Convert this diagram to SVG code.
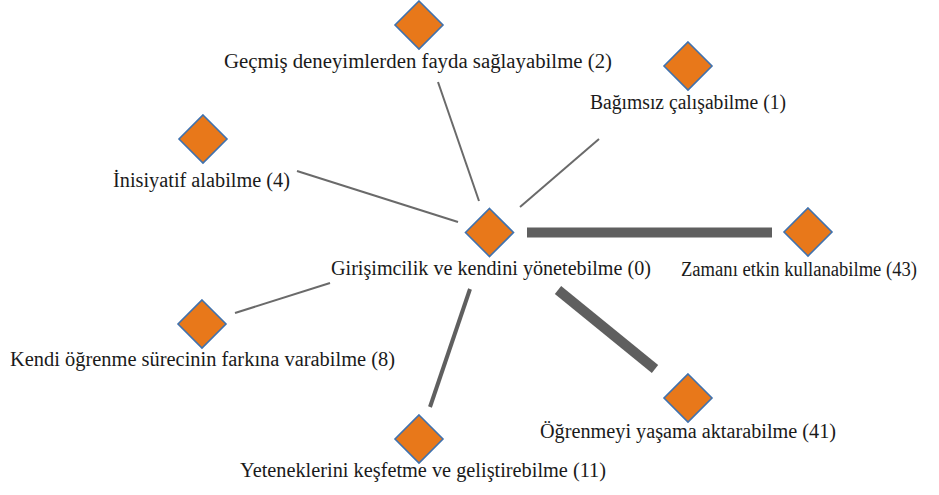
<svg xmlns="http://www.w3.org/2000/svg" width="939" height="495" viewBox="0 0 939 495">
  <defs>
    <style>
      .node { fill: #E8781A; stroke: #3F72AF; stroke-width: 1.6; }
      .lbl { font-family: "Liberation Serif", "Times New Roman", serif; font-size: 20px; fill: #1a1a1a; }
      .edge { stroke: #5f5f5f; stroke-linecap: butt; fill: none; }
      .w1 { stroke-width: 2; stroke: #6a6a6a; }
      .w2 { stroke-width: 4; }
      .w3 { stroke-width: 10; }
    </style>
    <polygon id="dia" points="0,-24 24,0 0,24 -24,0"/>
  </defs>
  <rect width="939" height="495" fill="#ffffff"/>

  <!-- connectors from the central node -->
  <g id="edges">
    <line class="edge w1" x1="438" y1="82" x2="479" y2="201"/>
    <line class="edge w1" x1="599" y1="139" x2="520" y2="207"/>
    <line class="edge w1" x1="297" y1="171" x2="458" y2="222"/>
    <line class="edge w1" x1="235" y1="313" x2="330" y2="283"/>
    <line class="edge w3" x1="527" y1="232.5" x2="772" y2="232.5"/>
    <line class="edge w3" x1="558" y1="290" x2="655" y2="369"/>
    <line class="edge w2" x1="470" y1="289" x2="430" y2="407"/>
  </g>

  <g id="n0">
    <use href="#dia" class="node" x="489.5" y="232.5"/>
    <text class="lbl" x="331" y="275" textLength="320" lengthAdjust="spacingAndGlyphs">Girişimcilik ve kendini yönetebilme (0)</text>
  </g>
  <g id="n1">
    <use href="#dia" class="node" x="688" y="66"/>
    <text class="lbl" x="590" y="109" textLength="196" lengthAdjust="spacingAndGlyphs">Bağımsız çalışabilme (1)</text>
  </g>
  <g id="n2">
    <use href="#dia" class="node" x="419" y="25"/>
    <text class="lbl" x="224" y="68" textLength="388" lengthAdjust="spacingAndGlyphs">Geçmiş deneyimlerden fayda sağlayabilme (2)</text>
  </g>
  <g id="n4">
    <use href="#dia" class="node" x="203" y="139"/>
    <text class="lbl" x="113" y="187" textLength="177" lengthAdjust="spacingAndGlyphs">İnisiyatif alabilme (4)</text>
  </g>
  <g id="n8">
    <use href="#dia" class="node" x="202" y="324"/>
    <text class="lbl" x="10" y="366" textLength="385" lengthAdjust="spacingAndGlyphs">Kendi öğrenme sürecinin farkına varabilme (8)</text>
  </g>
  <g id="n11">
    <use href="#dia" class="node" x="419" y="439"/>
    <text class="lbl" x="240" y="477" textLength="366" lengthAdjust="spacingAndGlyphs">Yeteneklerini keşfetme ve geliştirebilme (11)</text>
  </g>
  <g id="n41">
    <use href="#dia" class="node" x="688" y="398"/>
    <text class="lbl" x="540" y="438" textLength="296" lengthAdjust="spacingAndGlyphs">Öğrenmeyi yaşama aktarabilme (41)</text>
  </g>
  <g id="n43">
    <use href="#dia" class="node" x="808" y="232"/>
    <text class="lbl" x="681" y="276" textLength="236" lengthAdjust="spacingAndGlyphs">Zamanı etkin kullanabilme (43)</text>
  </g>
</svg>
